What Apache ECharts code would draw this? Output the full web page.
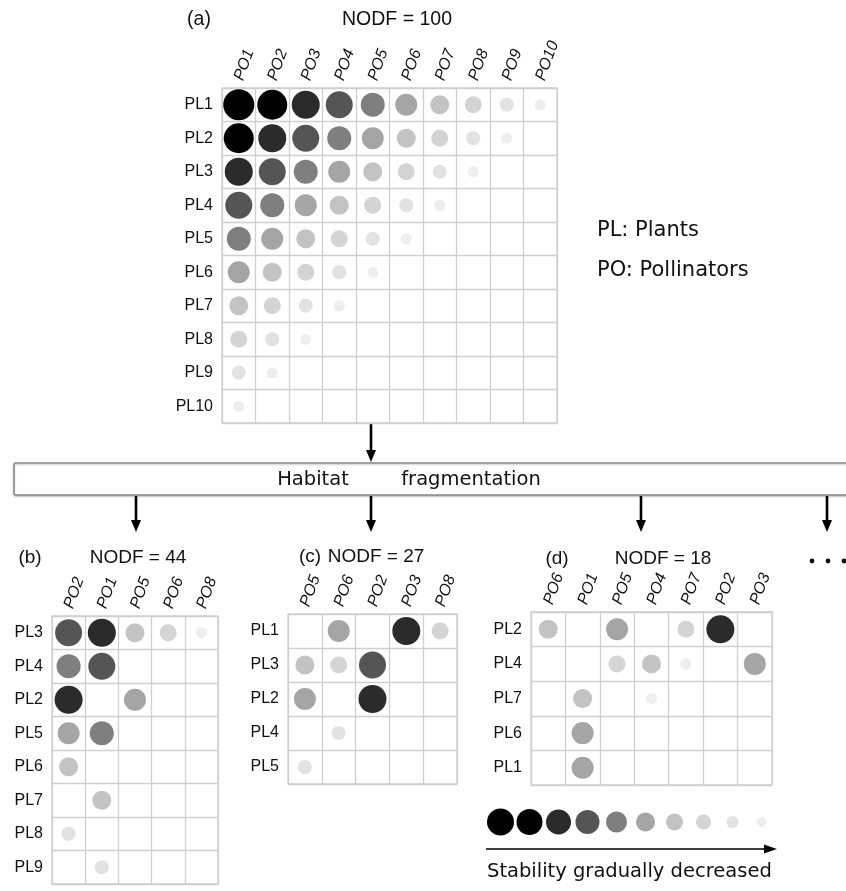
<!DOCTYPE html>
<html lang="en">
<head>
    <meta charset="UTF-8">
    <title>Nestedness under habitat fragmentation</title>
    <script src="https://cdn.jsdelivr.net/npm/echarts@6/dist/echarts.min.js"></script>
    <style>
        html, body { margin: 0; padding: 0; background: #fff; }
        #main { width: 846px; height: 891px; }
    </style>
</head>
<body>
<div id="main"></div>
<script>
    // levels: 1 = most stable (big, black) ... 10 = least stable (small, pale)
    var levelSizes = [31, 30, 28, 27, 24, 22, 19, 17, 14, 11];
    var levelColors = ['#000000', '#000000', '#2b2b2b', '#555555', '#7f7f7f',
        '#a5a5a5', '#c3c3c3', '#d4d4d4', '#e2e2e2', '#eeeeee'];

    // (a) perfectly nested matrix, NODF = 100
    var plantsA = ['PL1', 'PL2', 'PL3', 'PL4', 'PL5', 'PL6', 'PL7', 'PL8', 'PL9', 'PL10'];
    var pollA = ['PO1', 'PO2', 'PO3', 'PO4', 'PO5', 'PO6', 'PO7', 'PO8', 'PO9', 'PO10'];
    var levelsA = [
        [1, 2, 3, 4, 5, 6, 7, 8, 9, 10],
        [2, 3, 4, 5, 6, 7, 8, 9, 10, 0],
        [3, 4, 5, 6, 7, 8, 9, 10, 0, 0],
        [4, 5, 6, 7, 8, 9, 10, 0, 0, 0],
        [5, 6, 7, 8, 9, 10, 0, 0, 0, 0],
        [6, 7, 8, 9, 10, 0, 0, 0, 0, 0],
        [7, 8, 9, 10, 0, 0, 0, 0, 0, 0],
        [8, 9, 10, 0, 0, 0, 0, 0, 0, 0],
        [9, 10, 0, 0, 0, 0, 0, 0, 0, 0],
        [10, 0, 0, 0, 0, 0, 0, 0, 0, 0]
    ];

    // (b) NODF = 44
    var plantsB = ['PL3', 'PL4', 'PL2', 'PL5', 'PL6', 'PL7', 'PL8', 'PL9'];
    var pollB = ['PO2', 'PO1', 'PO5', 'PO6', 'PO8'];
    var linksB = [
        ['PO2', 'PL3', 4], ['PO1', 'PL3', 3], ['PO5', 'PL3', 7], ['PO6', 'PL3', 8], ['PO8', 'PL3', 10],
        ['PO2', 'PL4', 5], ['PO1', 'PL4', 4],
        ['PO2', 'PL2', 3], ['PO5', 'PL2', 6],
        ['PO2', 'PL5', 6], ['PO1', 'PL5', 5],
        ['PO2', 'PL6', 7],
        ['PO1', 'PL7', 7],
        ['PO2', 'PL8', 9],
        ['PO1', 'PL9', 9]
    ];

    // (c) NODF = 27
    var plantsC = ['PL1', 'PL3', 'PL2', 'PL4', 'PL5'];
    var pollC = ['PO5', 'PO6', 'PO2', 'PO3', 'PO8'];
    var linksC = [
        ['PO6', 'PL1', 6], ['PO3', 'PL1', 3], ['PO8', 'PL1', 8],
        ['PO5', 'PL3', 7], ['PO6', 'PL3', 8], ['PO2', 'PL3', 4],
        ['PO5', 'PL2', 6], ['PO2', 'PL2', 3],
        ['PO6', 'PL4', 9],
        ['PO5', 'PL5', 9]
    ];

    // (d) NODF = 18
    var plantsD = ['PL2', 'PL4', 'PL7', 'PL6', 'PL1'];
    var pollD = ['PO6', 'PO1', 'PO5', 'PO4', 'PO7', 'PO2', 'PO3'];
    var linksD = [
        ['PO6', 'PL2', 7], ['PO5', 'PL2', 6], ['PO7', 'PL2', 8], ['PO2', 'PL2', 3],
        ['PO5', 'PL4', 8], ['PO4', 'PL4', 7], ['PO7', 'PL4', 10], ['PO3', 'PL4', 6],
        ['PO1', 'PL7', 7], ['PO4', 'PL7', 10],
        ['PO1', 'PL6', 6],
        ['PO1', 'PL1', 6]
    ];

    var panelTitles = ['NODF = 100', 'NODF = 44', 'NODF = 27', 'NODF = 18'];
    var legendLevels = ['1', '2', '3', '4', '5', '6', '7', '8', '9', '10'];

    // flatten matrix (a) into links
    var linksA = [];
    levelsA.forEach(function (row, i) {
        row.forEach(function (lv, j) {
            if (lv > 0) linksA.push([pollA[j], plantsA[i], lv]);
        });
    });

    var cellLine = '#cfcfcf';
    var labelFont = 'Liberation Sans, Arial, sans-serif';
    var texFont = 'DejaVu Sans, sans-serif';

    var grids = [
        {left: 222, top: 88, width: 335, height: 335},
        {left: 52, top: 616, width: 166, height: 268},
        {left: 288, top: 614, width: 169, height: 170},
        {left: 531, top: 612, width: 241, height: 173},
        {left: 486, top: 806, width: 290, height: 32}
    ];
    var panels = [
        [pollA, plantsA, linksA],
        [pollB, plantsB, linksB],
        [pollC, plantsC, linksC],
        [pollD, plantsD, linksD]
    ];

    var xAxes = [], yAxes = [], series = [];
    panels.forEach(function (p, k) {
        xAxes.push({
            type: 'category', gridIndex: k, position: 'top', data: p[0],
            axisLine: {show: false}, axisTick: {show: false},
            splitLine: {show: true, interval: 0, lineStyle: {color: cellLine, width: 1.3}},
            axisLabel: {rotate: -70, fontSize: 16, margin: 8, color: '#111', fontFamily: labelFont,
                fontStyle: 'italic', interval: 0}
        });
        yAxes.push({
            type: 'category', gridIndex: k, inverse: true, data: p[1],
            axisLine: {show: false}, axisTick: {show: false},
            splitLine: {show: true, interval: 0, lineStyle: {color: cellLine, width: 1.3}},
            axisLabel: {fontSize: 16, margin: 9, color: '#111', fontFamily: labelFont, interval: 0}
        });
        series.push({
            type: 'scatter', xAxisIndex: k, yAxisIndex: k, data: p[2],
            symbolSize: function (v) { return levelSizes[v[2] - 1]; },
            itemStyle: {opacity: 1, color: function (d) { return levelColors[d.value[2] - 1]; }},
            silent: true
        });
    });

    // stability legend row
    xAxes.push({type: 'category', gridIndex: 4, data: legendLevels, show: false});
    yAxes.push({type: 'value', gridIndex: 4, min: 0, max: 2, show: false});
    series.push({
        type: 'scatter', xAxisIndex: 4, yAxisIndex: 4,
        data: legendLevels.map(function (l) { return [l, 1, +l]; }),
        symbolSize: function (v) { return Math.round(levelSizes[v[2] - 1] * 0.88); },
        itemStyle: {opacity: 1, color: function (d) { return levelColors[d.value[2] - 1]; }},
        silent: true
    });

    function downArrow(x, y1, y2) {
        return [
            {type: 'line', shape: {x1: x, y1: y1, x2: x, y2: y2 - 10}, style: {stroke: '#000', lineWidth: 2.6}},
            {type: 'polygon', shape: {points: [[x - 5, y2 - 12], [x + 5, y2 - 12], [x, y2]]}, style: {fill: '#000'}}
        ];
    }

    function text(str, x, y, size, font, align) {
        return {type: 'text', x: x, y: y, style: {
            text: str, fontSize: size, fontFamily: font, fill: '#111',
            align: align || 'center', verticalAlign: 'middle'
        }};
    }

    var graphics = [
        text('(a)', 199, 20, 19.5, labelFont),
        text(panelTitles[0], 397, 20, 19.5, labelFont),
        text('(b)', 30, 558, 19, labelFont),
        text(panelTitles[1], 138, 558, 19, labelFont),
        text('(c)', 310, 557, 19, labelFont),
        text(panelTitles[2], 376, 557, 19, labelFont),
        text('(d)', 557, 559, 19, labelFont),
        text(panelTitles[3], 663, 559, 19, labelFont),
        text('PL: Plants', 597, 231, 21, texFont, 'left'),
        text('PO: Pollinators', 597, 271, 21, texFont, 'left'),
        {type: 'rect', shape: {x: 14, y: 463, width: 860, height: 32, r: 2},
            style: {fill: '#fff', stroke: '#8a8a8a', lineWidth: 1.5,
                shadowColor: 'rgba(0,0,0,0.25)', shadowBlur: 2, shadowOffsetY: 1}},
        text('Habitat', 313, 480, 19.5, texFont),
        text('fragmentation', 471, 480, 19.5, texFont),
        {type: 'circle', shape: {cx: 812, cy: 561, r: 2.4}, style: {fill: '#111'}},
        {type: 'circle', shape: {cx: 828, cy: 561, r: 2.4}, style: {fill: '#111'}},
        {type: 'circle', shape: {cx: 844, cy: 561, r: 2.4}, style: {fill: '#111'}},
        {type: 'line', shape: {x1: 486, y1: 849, x2: 768, y2: 849}, style: {stroke: '#000', lineWidth: 1.5}},
        {type: 'polygon', shape: {points: [[764, 844.5], [764, 853.5], [777, 849]]}, style: {fill: '#000'}},
        text('Stability gradually decreased', 487, 872, 19.5, texFont, 'left')
    ];
    graphics = graphics.concat(downArrow(371, 424, 462));
    [136, 371, 641, 827].forEach(function (x) {
        graphics = graphics.concat(downArrow(x, 496, 532));
    });

    var chart = echarts.init(document.getElementById('main'), null, {renderer: 'canvas'});
    chart.setOption({
        animation: false,
        backgroundColor: '#fff',
        grid: grids.map(function (g, i) {
            return Object.assign({show: i < 4, borderColor: cellLine, borderWidth: 1.3}, g);
        }),
        xAxis: xAxes,
        yAxis: yAxes,
        series: series,
        graphic: graphics
    });
</script>
</body>
</html>
